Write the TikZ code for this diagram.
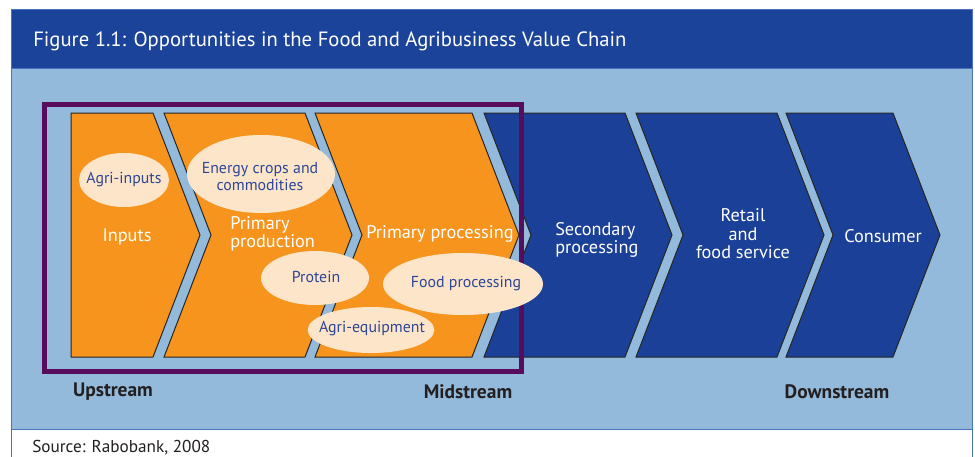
\documentclass[tikz,border=0pt]{standalone}
\usepackage{fontspec}
\setmainfont{PT Sans}
\usetikzlibrary{shapes.geometric}
\definecolor{bandblue}{RGB}{27,67,153}
\definecolor{panelblue}{RGB}{147,186,218}
\definecolor{framelinec}{RGB}{74,114,192}
\definecolor{chevorange}{RGB}{247,148,30}
\definecolor{chevblue}{RGB}{27,64,152}
\definecolor{groupframe}{RGB}{88,12,92}
\definecolor{bubblefill}{RGB}{253,229,201}
\definecolor{bubbletext}{RGB}{46,70,150}
\definecolor{labeldark}{RGB}{35,31,32}
\begin{document}
\begin{tikzpicture}[x=0.75pt,y=-0.75pt,
  chevron/.style={draw=black!85, line width=0.75pt, line join=miter},
  stagetext/.style={text=white, font=\fontsize{13.7}{16}\selectfont, inner sep=0pt},
  bubble/.style={ellipse, fill=bubblefill, inner sep=0pt},
  bubblelabel/.style={text=bubbletext, inner sep=0pt, align=center,
    font=\fontsize{11.9}{12.8}\selectfont},
  streamlabel/.style={text=labeldark, font=\fontsize{14.6}{16}\selectfont\bfseries, inner sep=0pt}]
\useasboundingbox (0,0) rectangle (975,457);
% panel and title band
\fill[white] (0,0) rectangle (975,457);
\fill[panelblue] (11,68) rectangle (972,429);
\fill[bandblue] (11,9.5) rectangle (972,68);
\draw[framelinec, line width=0.75pt] (11,457) -- (11,9.5) -- (972,9.5) -- (972,457);
\draw[framelinec, line width=0.75pt] (11,68) -- (972,68);
\draw[framelinec, line width=0.75pt] (11,429) -- (972,429);
\node[anchor=west, text=white, font=\fontsize{15.5}{18}\selectfont, inner sep=0pt] (title) at (33,41)
  {Figure 1.1: Opportunities in the Food and Agribusiness Value Chain};
% value chain stages
\path[chevron, fill=chevorange] (71,113) -- (153,113) -- (200,235) -- (153,357) -- (71,357) -- cycle;
\path[chevron, fill=chevorange] (164,113) -- (305,113) -- (352,235) -- (305,357) -- (164,357) -- (211,235) -- cycle;
\path[chevron, fill=chevorange] (315,113) -- (472,113) -- (519,235) -- (472,357) -- (315,357) -- (362,235) -- cycle;
\path[chevron, fill=chevblue] (484,113) -- (625,113) -- (672,235) -- (625,357) -- (484,357) -- (531,235) -- cycle;
\path[chevron, fill=chevblue] (636,113) -- (777,113) -- (824,235) -- (777,357) -- (636,357) -- (683,235) -- cycle;
\path[chevron, fill=chevblue] (786,113) -- (893,113) -- (940,235) -- (893,357) -- (786,357) -- (833,235) -- cycle;
% upstream and midstream grouping
\draw[groupframe, line width=3.75pt] (44.5,104.5) rectangle (521.5,371);
% stage names
\node[stagetext] (inputs) at (127,237) {Inputs};
\node[stagetext, anchor=west, align=left] (primprod) at (230,234) {Primary\\[-2pt]production};
\node[stagetext] (primproc) at (440,234) {Primary processing};
\node[stagetext, anchor=west, align=left] (secproc) at (555,240) {Secondary\\[-2pt]processing};
\node[stagetext, align=center] (retail) at (743,234) {Retail\\[-2.2pt]and\\[-2.2pt]food service};
\node[stagetext] (consumer) at (883,236) {Consumer};
% opportunity bubbles (sizes in pt) and their captions
\node[bubble, minimum width=67.5pt, minimum height=40.5pt] (agriin) at (124,180) {};
\node[bubble, minimum width=111pt, minimum height=58.5pt] (energy) at (261,174) {};
\node[bubble, minimum width=81pt, minimum height=40.5pt] (protein) at (315,278) {};
\node[bubble, minimum width=120pt, minimum height=46.5pt] (foodproc) at (463,284) {};
\node[bubble, minimum width=95pt, minimum height=34.5pt] (agrieq) at (371,330) {};
\node[bubblelabel] (agriinT) at (124,180) {Agri-inputs};
\node[bubblelabel] (energyT) at (260,177) {Energy crops and\\commodities};
\node[bubblelabel] (proteinT) at (316,277) {Protein};
\node[bubblelabel] (foodprocT) at (466,284) {Food processing};
\node[bubblelabel] (agrieqT) at (372,329) {Agri-equipment};
% stream labels
\node[streamlabel] (up) at (113,392) {Upstream};
\node[streamlabel] (mid) at (468,392) {Midstream};
\node[streamlabel] (down) at (837,392) {Downstream};
\node[anchor=west, text=labeldark, font=\fontsize{12.9}{14}\selectfont, inner sep=0pt] (source) at (32,448) {Source: Rabobank, 2008};
\end{tikzpicture}
\end{document}
